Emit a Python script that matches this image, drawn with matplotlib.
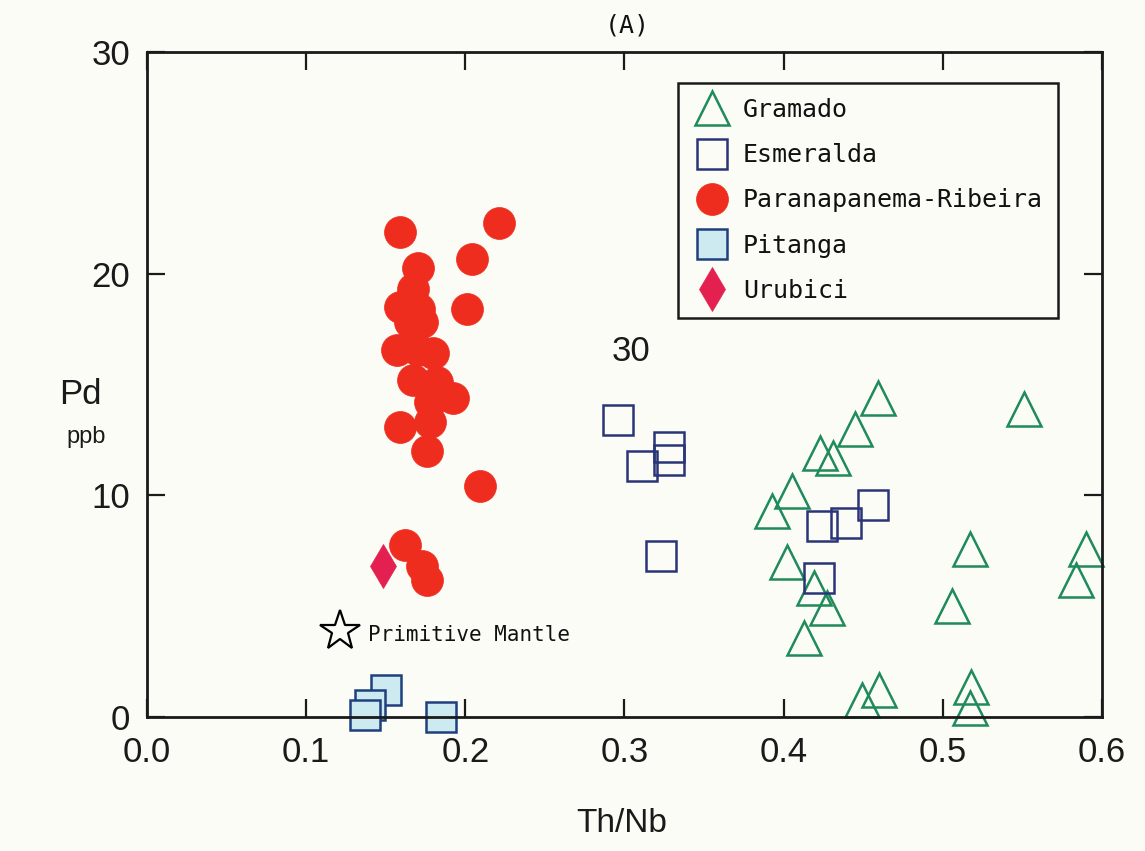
import matplotlib
matplotlib.use("Agg")
import matplotlib.pyplot as plt

# Gramado (open triangles)
gramado_x = [0.459, 0.445, 0.423, 0.431, 0.405, 0.393, 0.402, 0.419, 0.427, 0.413,
             0.551, 0.517, 0.590, 0.584, 0.506, 0.460, 0.449, 0.518, 0.517]
gramado_y = [14.4, 13.0, 11.9, 11.7, 10.2, 9.3, 7.0, 5.8, 4.9, 3.56,
             13.9, 7.6, 7.6, 6.2, 5.0, 1.2, 0.77, 1.35, 0.4]

# Esmeralda (open squares)
esmeralda_x = [0.296, 0.311, 0.328, 0.328, 0.323, 0.456, 0.439, 0.424, 0.422]
esmeralda_y = [13.4, 11.3, 12.2, 11.6, 7.26, 9.56, 8.75, 8.6, 6.27]

# Paranapanema-Ribeira (filled circles)
parana_x = [0.159, 0.221, 0.170, 0.204, 0.201, 0.167, 0.159, 0.171, 0.165, 0.173,
            0.157, 0.170, 0.180, 0.167, 0.182, 0.192, 0.178, 0.159, 0.178, 0.176,
            0.209, 0.162, 0.173, 0.176]
parana_y = [21.9, 22.3, 20.25, 20.66, 18.4, 19.3, 18.5, 18.4, 17.8, 17.8,
            16.55, 16.55, 16.4, 15.2, 15.1, 14.4, 14.2, 13.1, 13.3, 12.0,
            10.4, 7.75, 6.8, 6.2]

# Pitanga (filled light-blue squares)
pitanga_x = [0.150, 0.140, 0.137, 0.185]
pitanga_y = [1.2, 0.55, 0.1, 0.0]

# Urubici (diamond)
urubici_x = [0.148]
urubici_y = [6.8]

# Primitive Mantle (star)
pm_x = [0.121]
pm_y = [3.9]

xticks = [0.0, 0.1, 0.2, 0.3, 0.4, 0.5, 0.6]
yticks = [0, 10, 20, 30]

BG = "#fbfcf6"
sans = ["Liberation Sans", "DejaVu Sans"]
mono = ["DejaVu Sans Mono"]

fig = plt.figure(figsize=(11.45, 8.51), dpi=100, facecolor=BG)
ax = fig.add_axes([0.1284, 0.1575, 0.834, 0.7814])
ax.set_facecolor(BG)

ax.plot(gramado_x, gramado_y, linestyle="none", marker="^", markersize=24,
        markerfacecolor="none", markeredgecolor="#1f8a5a", markeredgewidth=1.8,
        label="Gramado", clip_on=False)
ax.plot(esmeralda_x, esmeralda_y, linestyle="none", marker="s", markersize=21,
        markerfacecolor="none", markeredgecolor="#2a3578", markeredgewidth=1.8,
        label="Esmeralda")
ax.plot(parana_x, parana_y, linestyle="none", marker="o", markersize=23,
        markerfacecolor="#ef2d1f", markeredgecolor="#ef2d1f", markeredgewidth=0.5,
        label="Paranapanema-Ribeira")
ax.plot(pitanga_x, pitanga_y, linestyle="none", marker="s", markersize=21,
        markerfacecolor="#cdeaf0", markeredgecolor="#1f3f7f", markeredgewidth=1.8,
        label="Pitanga", clip_on=False)
ax.plot(urubici_x, urubici_y, linestyle="none", marker="d", markersize=22,
        markerfacecolor="#e3204f", markeredgecolor="#e3204f", markeredgewidth=0.5,
        label="Urubici")
ax.plot(pm_x, pm_y, linestyle="none", marker="*", markersize=30,
        markerfacecolor="none", markeredgecolor="black", markeredgewidth=1.6)
ax.text(0.1388, 3.7, "Primitive Mantle", family=mono, fontsize=15,
        ha="left", va="center", color="#111111")

ax.text(0.304, 16.5, "30", family=sans, fontsize=25, ha="center", va="center",
        color="#1a1a1a")

ax.set_xlim(0.0, 0.6)
ax.set_ylim(0, 30)
ax.set_xticks(xticks)
ax.set_yticks(yticks)
ax.set_xticklabels([f"{t:.1f}" for t in xticks], family=sans, fontsize=25)
ax.set_yticklabels([str(t) for t in yticks], family=sans, fontsize=25)
ax.tick_params(direction="in", length=13, width=1.6, top=True, right=True,
               color="#1a1a1a", labelcolor="#1a1a1a")
ax.tick_params(axis="x", pad=14)
ax.tick_params(axis="y", pad=12)
for s in ax.spines.values():
    s.set_linewidth(2.0)
    s.set_color("#1a1a1a")

leg = ax.legend(loc="upper left", bbox_to_anchor=(678 / 1145, 1 - 83 / 851),
                bbox_transform=fig.transFigure, prop={"family": mono, "size": 18},
                frameon=True, fancybox=False, framealpha=1, labelspacing=0.85,
                handletextpad=0.5, borderpad=0.6, handlelength=1.5,
                borderaxespad=0)
leg.get_frame().set_edgecolor("#1a1a1a")
leg.get_frame().set_linewidth(1.8)
leg.get_frame().set_facecolor(BG)
for t in leg.get_texts():
    t.set_color("#111111")

fig.text(627 / 1145, 1 - 25 / 851, "(A)", family=mono, fontsize=18,
         ha="center", va="center", color="#111111")
fig.text(80 / 1145, 1 - 395 / 851, "Pd", family=sans, fontsize=25,
         ha="center", va="center", color="#1a1a1a")
fig.text(86 / 1145, 1 - 437 / 851, "ppb", family=sans, fontsize=17,
         ha="center", va="center", color="#1a1a1a")
fig.text(622 / 1145, 1 - 824 / 851, "Th/Nb", family=sans, fontsize=24,
         ha="center", va="center", color="#1a1a1a")

fig.savefig("out.png", dpi=100, facecolor=BG)
